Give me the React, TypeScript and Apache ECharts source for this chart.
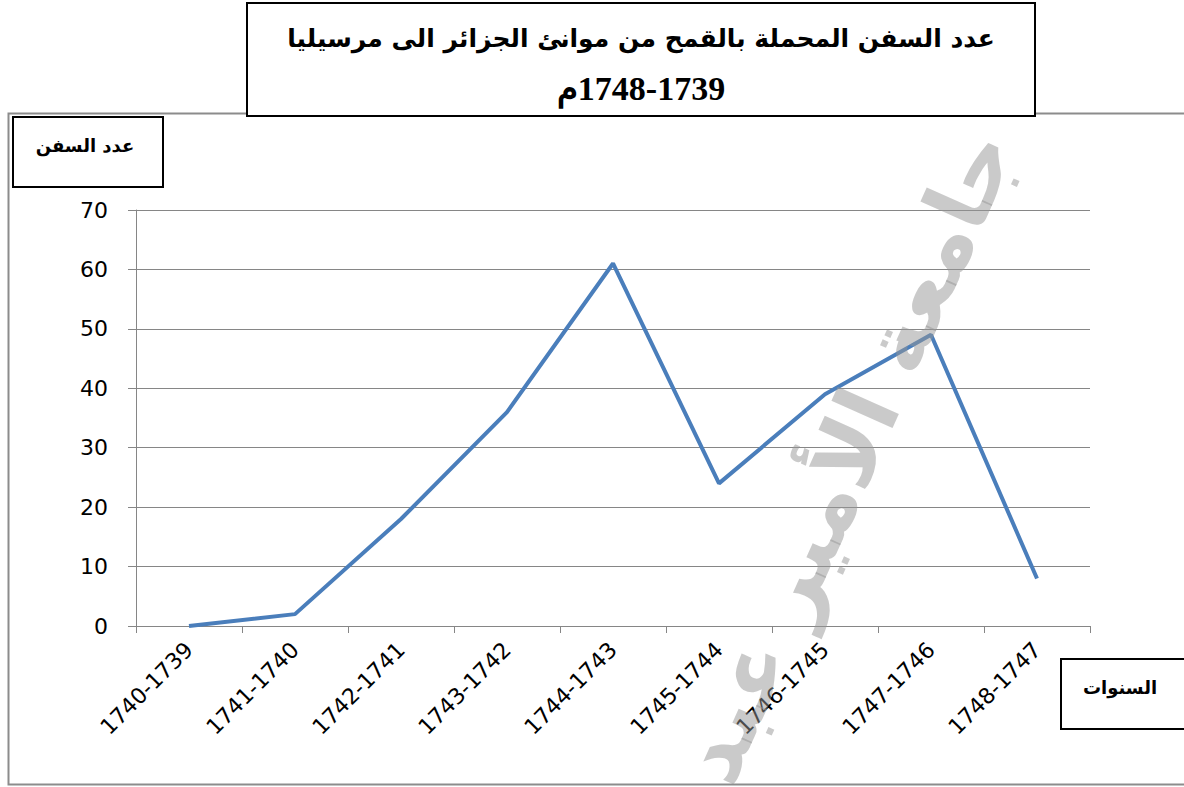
import React, { useEffect, useRef } from "react";
import * as echarts from "echarts";

const categories = [
  "1740-1739",
  "1741-1740",
  "1742-1741",
  "1743-1742",
  "1744-1743",
  "1745-1744",
  "1746-1745",
  "1747-1746",
  "1748-1747",
];
const ships = [0, 2, 18, 36, 61, 24, 39, 49, 8];
const yTicks = { min: 0, max: 70, interval: 10 };
const titleLine1 = "عدد السفن المحملة بالقمح من موانئ الجزائر الى مرسيليا";
const titleLine2 = "\u200F1748-1739م";
const yName = "عدد السفن";
const xName = "السنوات";
const watermark = "جامعة الأمير عبد القادر";

export default function App() {
  const ref = useRef<HTMLDivElement>(null);
  useEffect(() => {
    if (!ref.current) return;
    const chart = echarts.init(ref.current, null, { renderer: "svg" });
    chart.setOption({
      animation: false,
      backgroundColor: "#ffffff",
      grid: { left: 136, right: 94, top: 210, bottom: 161 },
      xAxis: {
        type: "category",
        data: categories,
        boundaryGap: true,
        axisLine: { show: true, lineStyle: { color: "#868686", width: 1 } },
        axisTick: { show: true, length: 7, lineStyle: { color: "#868686" } },
        axisLabel: {
          rotate: 45,
          fontSize: 22,
          color: "#000",
          fontFamily: "DejaVu Sans",
          margin: 20,
        },
      },
      yAxis: {
        type: "value",
        min: yTicks.min,
        max: yTicks.max,
        interval: yTicks.interval,
        axisLine: { show: true, lineStyle: { color: "#868686", width: 1 } },
        axisTick: { show: true, length: 8, lineStyle: { color: "#868686" } },
        splitLine: { show: true, lineStyle: { color: "#868686", width: 1 } },
        axisLabel: {
          fontSize: 22,
          color: "#000",
          fontFamily: "DejaVu Sans",
          margin: 28,
        },
      },
      series: [
        {
          type: "line",
          data: ships,
          symbol: "none",
          lineStyle: { color: "#4a7ebb", width: 4 },
          itemStyle: { color: "#4a7ebb" },
        },
      ],
      graphic: [
        {
          type: "rect",
          shape: { x: 8.5, y: 113.5, width: 1200, height: 671 },
          style: { fill: "none", stroke: "#8c8c8c", lineWidth: 2 },
          z: 1,
        },
        {
          type: "rect",
          shape: { x: 247, y: 3, width: 788, height: 113 },
          style: { fill: "#ffffff", stroke: "#000000", lineWidth: 2 },
          z: 5,
        },
        {
          type: "text",
          x: 641,
          y: 38,
          style: {
            text: titleLine1,
            fontSize: 25,
            fontWeight: "bold",
            fontFamily: "DejaVu Sans",
            fill: "#000",
            textAlign: "center",
            textVerticalAlign: "middle",
          },
          z: 6,
        },
        {
          type: "text",
          x: 641,
          y: 88,
          style: {
            text: titleLine2,
            fontSize: 34,
            fontWeight: "bold",
            fontFamily: "Liberation Serif",
            fill: "#000",
            textAlign: "center",
            textVerticalAlign: "middle",
          },
          z: 6,
        },
        {
          type: "rect",
          shape: { x: 13, y: 117, width: 150, height: 70 },
          style: { fill: "#ffffff", stroke: "#000000", lineWidth: 2 },
          z: 5,
        },
        {
          type: "text",
          x: 85,
          y: 145,
          style: {
            text: yName,
            fontSize: 18,
            fontWeight: "bold",
            fontFamily: "DejaVu Sans",
            fill: "#000",
            textAlign: "center",
            textVerticalAlign: "middle",
          },
          z: 6,
        },
        {
          type: "rect",
          shape: { x: 1061, y: 659, width: 140, height: 70 },
          style: { fill: "#ffffff", stroke: "#000000", lineWidth: 2 },
          z: 5,
        },
        {
          type: "text",
          x: 1120,
          y: 687,
          style: {
            text: xName,
            fontSize: 18,
            fontWeight: "bold",
            fontFamily: "DejaVu Sans",
            fill: "#000",
            textAlign: "center",
            textVerticalAlign: "middle",
          },
          z: 6,
        },
        {
          type: "text",
          x: 990,
          y: 135,
          rotation: 1.15,
          style: {
            text: watermark,
            fontSize: 88,
            fontWeight: "bold",
            fontFamily: "DejaVu Sans",
            fill: "rgba(150,150,150,0.5)",
            textAlign: "right",
            textVerticalAlign: "middle",
          },
          z: 10,
        },
      ],
    });
    return () => chart.dispose();
  }, []);
  return (
    <div
      ref={ref}
      style={{ position: "fixed", left: 0, top: 0, width: 1184, height: 787 }}
    />
  );
}
